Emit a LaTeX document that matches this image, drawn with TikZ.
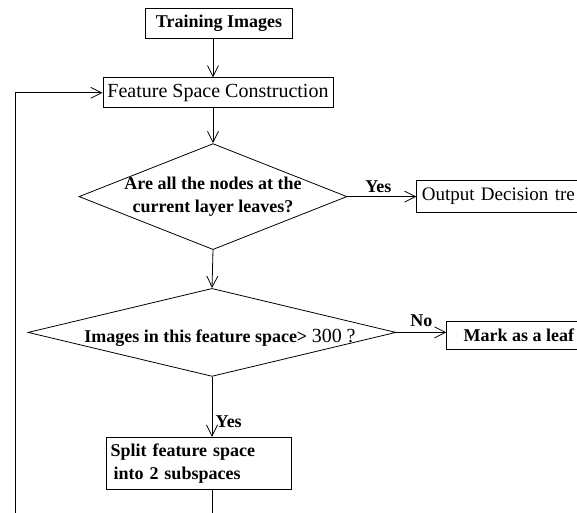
\documentclass[tikz,border=0pt]{standalone}
\usepackage{fontspec}
\setmainfont{Liberation Serif}
\usetikzlibrary{arrows.meta,positioning,shapes.geometric}

\begin{document}
\begin{tikzpicture}[
    x=1pt, y=1pt,
    font=\fontsize{18}{23}\selectfont\bfseries,
    bx/.style={draw, line width=0.8pt, minimum height=30pt, inner sep=4pt},
    rm/.style={font=\fontsize{20}{23}\selectfont\mdseries},
    dia/.style={draw, diamond, line width=0.8pt, inner sep=0pt},
    arr/.style={-{Straight Barb[length=11pt, width=11pt]}, line width=0.8pt}
  ]
    \useasboundingbox (0,0) rectangle (577,-512);
    \clip (0,0) rectangle (577,-512);
    \node[bx, minimum width=147pt] (train) at (219,-23) {Training Images};
    \node[bx, rm, minimum width=230pt, below=39pt of train, xshift=-1pt] (fsc) {Feature Space Construction};
    \node[dia, minimum width=268pt, minimum height=106pt, below=35pt of fsc, xshift=-5pt] (dia1) {};
    \node[align=center] (q1) at (dia1) {Are all the nodes at the\\current layer leaves?};
    \node[bx, minimum height=32pt, minimum width=170pt, text width=160pt, align=left,
          font=\fontsize{19}{23}\selectfont\mdseries, right=69pt of dia1] (out) {Output Decision tre};
    \node[dia, minimum width=368pt, minimum height=88pt, below=38pt of dia1, xshift=-1pt] (dia2) {};
    \node[xshift=8pt, yshift=-5pt] (q2) at (dia2) {Images in this feature space> {\fontsize{20}{23}\selectfont\mdseries 300 ?}};
    \node[bx, minimum width=144pt, minimum height=28pt, right=50pt of dia2, yshift=-3pt] (mark) {Mark as a leaf};
    \node[bx, text width=177pt, minimum height=52pt, align=left, below=60pt of dia2, xshift=-13pt] (split) {Split feature space\\\hspace*{3pt}into 2 subspaces};
    \coordinate (back) at (15,-540);
    \draw[arr] (train.south -| dia1.north) -- (fsc.north -| dia1.north);
    \draw[arr] (fsc.south -| dia1.north) -- (dia1.north);
    \draw[arr] (dia1.east) -- node[above, pos=0.45]{Yes} (out.west);
    \draw[arr] (dia1.south) -- (dia2.north);
    \draw[arr] (dia2.east) -- node[above, yshift=2pt]{No} (dia2.east -| mark.west);
    \draw[arr] (dia2.south) -- node[right, pos=0.75]{Yes} (dia2.south |- split.north);
    \draw[arr] (split.south -| dia2.south) |- (back) |- (fsc.west);
\end{tikzpicture}
\end{document}
